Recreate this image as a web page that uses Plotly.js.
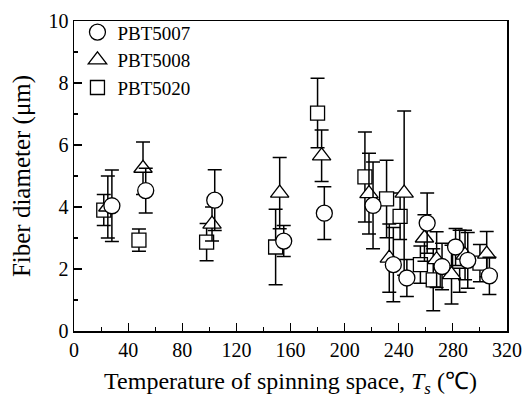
<!DOCTYPE html>
<html>
<head>
<meta charset="utf-8">
<script src="https://cdn.plot.ly/plotly-3.0.1.min.js"></script>
<style>html,body{margin:0;padding:0;background:#fff;}#chart{width:530px;height:398px;}</style>
</head>
<body>
<div id="chart"></div>
<script>
// PBT5007 (circles)
var t5007 = [28, 53, 104, 155, 185, 221, 236, 246, 261, 272, 282, 291, 307];
var d5007 = [4.04, 4.53, 4.22, 2.9, 3.8, 4.05, 2.14, 1.71, 3.48, 2.08, 2.71, 2.28, 1.78];
var e5007 = [1.15, 0.72, 0.98, 0.5, 0.85, 1.4, 1.2, 0.6, 0.97, 0.75, 0.6, 0.9, 0.6];
// PBT5008 (triangles)
var t5008 = [25, 51, 102, 152, 183, 218, 233, 244, 259, 268, 279, 289, 305];
var d5008 = [4.0, 5.25, 3.45, 4.45, 5.65, 4.43, 2.35, 4.45, 3.0, 2.3, 1.82, 2.45, 2.48];
var e5008 = [1.0, 0.85, 0.55, 1.15, 0.83, 1.3, 1.1, 2.65, 0.75, 0.9, 0.95, 0.8, 0.73];
// PBT5020 (squares)
var t5020 = [22, 48, 98, 149, 180, 215, 231, 241, 256, 265.5, 285, 300];
var d5020 = [3.9, 2.93, 2.87, 2.71, 7.03, 4.97, 4.26, 3.7, 2.14, 1.65, 2.25, 2.19];
var e5020 = [0.5, 0.36, 0.6, 1.22, 1.12, 1.45, 1.25, 0.75, 0.6, 1.0, 1.0, 0.6];

var names = ['PBT5007', 'PBT5008', 'PBT5020'];
var xTicks = [0, 40, 80, 120, 160, 200, 240, 280, 320];
var yTicks = [0, 2, 4, 6, 8, 10];

function mk(x, y, e, name, sym, size) {
  return {
    type: 'scatter', mode: 'markers', name: name, x: x, y: y,
    error_y: {type: 'data', array: e, visible: true, color: '#000', thickness: 1.5, width: 7},
    marker: {symbol: sym, size: size, color: '#fff', line: {color: '#000', width: 1.3}}
  };
}
var data = [
  mk(t5020, d5020, e5020, names[2], 'square', 14),
  mk(t5008, d5008, e5008, names[1], 'triangle-up', 16),
  mk(t5007, d5007, e5007, names[0], 'circle', 16)
];
var ff = '"Liberation Serif", "Times New Roman", Times, serif';
var layout = {
  width: 530, height: 398,
  margin: {l: 74, r: 23, t: 21, b: 67},
  paper_bgcolor: '#fff', plot_bgcolor: '#fff',
  font: {family: ff, color: '#000', size: 20},
  showlegend: true,
  legend: {x: 0.008, y: 1.025, xanchor: 'left', yanchor: 'top', traceorder: 'reversed',
           bgcolor: 'rgba(0,0,0,0)', font: {family: ff, size: 19, color: '#000'},
           itemwidth: 30, tracegroupgap: 0},
  xaxis: {
    range: [0, 320], tickvals: xTicks, ticks: 'inside', ticklen: 8, tickwidth: 1.1, tickcolor: '#000',
    minor: {dtick: 20, ticks: 'inside', ticklen: 4, tickwidth: 1.1, tickcolor: '#000', tick0: 0},
    showline: true, linecolor: '#000', linewidth: 1.5, mirror: true, showgrid: false, zeroline: false,
    tickfont: {family: ff, size: 20, color: '#000'},
    title: {text: 'Temperature of spinning space, <i>T<sub>s</sub></i> (\u2103)', font: {family: ff, size: 24, color: '#000'}, standoff: 15}
  },
  yaxis: {
    range: [0, 10], tickvals: yTicks, ticks: 'inside', ticklen: 8, tickwidth: 1.1, tickcolor: '#000',
    minor: {dtick: 1, ticks: 'inside', ticklen: 4, tickwidth: 1.1, tickcolor: '#000', tick0: 0},
    showline: true, linecolor: '#000', linewidth: 1.5, mirror: true, showgrid: false, zeroline: false,
    tickfont: {family: ff, size: 20, color: '#000'},
    title: {text: 'Fiber diameter (\u03bcm)', font: {family: ff, size: 25, color: '#000'}, standoff: 11}
  }
};
Plotly.newPlot('chart', data, layout, {displayModeBar: false, staticPlot: true});
</script>
</body>
</html>
